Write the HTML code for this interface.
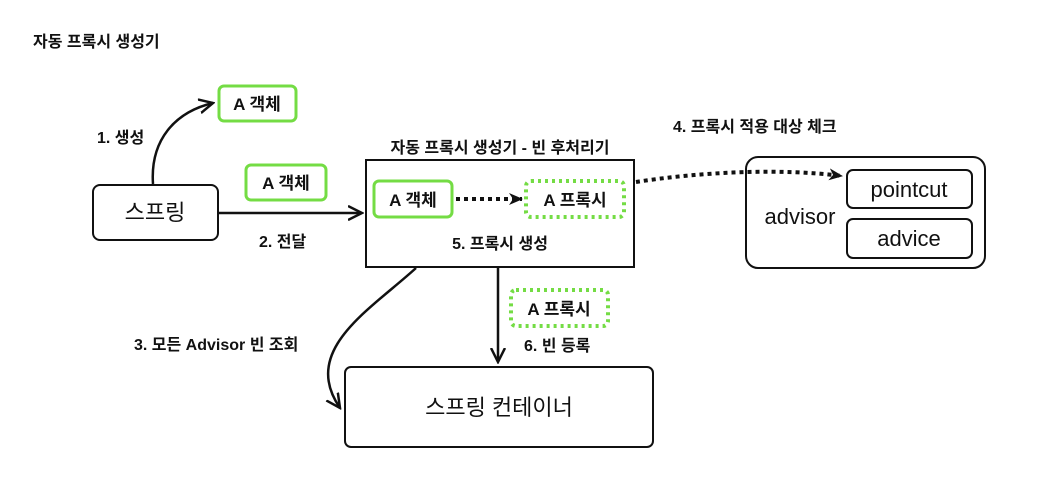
<!DOCTYPE html>
<html><head><meta charset="utf-8"><style>
body{margin:0;background:#fff;}
svg text{font-family:"Liberation Sans","Noto Sans CJK KR",sans-serif;fill:#111;}
</style></head><body>
<svg width="1049" height="479" viewBox="0 0 1049 479" xmlns="http://www.w3.org/2000/svg">
<defs>
<marker id="af" markerWidth="14" markerHeight="12" refX="13" refY="6" orient="auto" markerUnits="userSpaceOnUse">
<path d="M0,0 L14,6 L0,12 L4,6 Z" fill="#111"/></marker>
<marker id="ab" markerWidth="16" markerHeight="16" refX="14" refY="8" orient="auto" markerUnits="userSpaceOnUse">
<path d="M0,1 L14,8 L0,15" fill="none" stroke="#111" stroke-width="2.5"/></marker>
</defs>
<text x="33" y="47" font-size="16" font-weight="bold">자동 프록시 생성기</text>

<rect x="93" y="185" width="125" height="55" rx="7" fill="none" stroke="#111" stroke-width="2"/>
<text x="155" y="220" font-size="22" text-anchor="middle">스프링</text>

<rect x="219" y="86" width="77" height="35" rx="5" fill="none" stroke="#74dc44" stroke-width="3"/>
<text x="257" y="110" font-size="17" text-anchor="middle" font-weight="bold">A 객체</text>
<path d="M153,184 C150,140 175,112 213,103" fill="none" stroke="#111" stroke-width="2.5" marker-end="url(#ab)"/>
<text x="97" y="143" font-size="16" font-weight="bold">1. 생성</text>

<rect x="246" y="165" width="80" height="35" rx="5" fill="none" stroke="#74dc44" stroke-width="3"/>
<text x="286" y="189" font-size="17" text-anchor="middle" font-weight="bold">A 객체</text>
<line x1="219" y1="213" x2="362" y2="213" stroke="#111" stroke-width="2.5" marker-end="url(#ab)"/>
<text x="259" y="247" font-size="16" font-weight="bold">2. 전달</text>

<text x="500" y="153" font-size="16" text-anchor="middle" font-weight="bold">자동 프록시 생성기 - 빈 후처리기</text>
<rect x="366" y="160" width="268" height="107" fill="none" stroke="#111" stroke-width="2"/>
<rect x="374" y="181" width="78" height="36" rx="5" fill="none" stroke="#74dc44" stroke-width="3"/>
<text x="413" y="206" font-size="17" text-anchor="middle" font-weight="bold">A 객체</text>
<line x1="456" y1="199" x2="522" y2="199" stroke="#111" stroke-width="4" stroke-dasharray="4,4" marker-end="url(#af)"/>
<rect x="526" y="181" width="98" height="36" rx="5" fill="none" stroke="#74dc44" stroke-width="4" stroke-dasharray="3,4"/>
<text x="575" y="206" font-size="17" text-anchor="middle" font-weight="bold">A 프록시</text>
<text x="500" y="249" font-size="16" text-anchor="middle" font-weight="bold">5. 프록시 생성</text>

<text x="673" y="132" font-size="16" font-weight="bold">4. 프록시 적용 대상 체크</text>
<path d="M636,182 C700,172 780,168 842,176" fill="none" stroke="#111" stroke-width="4" stroke-dasharray="4,4" marker-end="url(#af)"/>
<rect x="746" y="157" width="239" height="111" rx="12" fill="none" stroke="#111" stroke-width="2"/>
<text x="800" y="224" font-size="22" text-anchor="middle">advisor</text>
<rect x="847" y="170" width="125" height="38" rx="6" fill="none" stroke="#111" stroke-width="2"/>
<text x="909" y="197" font-size="22" text-anchor="middle">pointcut</text>
<rect x="847" y="219" width="125" height="39" rx="6" fill="none" stroke="#111" stroke-width="2"/>
<text x="909" y="246" font-size="22" text-anchor="middle">advice</text>

<path d="M416,268 C370,310 300,350 340,408" fill="none" stroke="#111" stroke-width="2.5" marker-end="url(#ab)"/>
<text x="134" y="350" font-size="16" font-weight="bold">3. 모든 Advisor 빈 조회</text>

<line x1="498" y1="268" x2="498" y2="362" stroke="#111" stroke-width="2.5" marker-end="url(#ab)"/>
<rect x="511" y="290" width="97" height="36" rx="5" fill="none" stroke="#74dc44" stroke-width="4" stroke-dasharray="3,4"/>
<text x="559" y="315" font-size="17" text-anchor="middle" font-weight="bold">A 프록시</text>
<text x="524" y="351" font-size="16" font-weight="bold">6. 빈 등록</text>

<rect x="345" y="367" width="308" height="80" rx="6" fill="none" stroke="#111" stroke-width="2"/>
<text x="499" y="415" font-size="22" text-anchor="middle">스프링 컨테이너</text>
</svg>
</body></html>
